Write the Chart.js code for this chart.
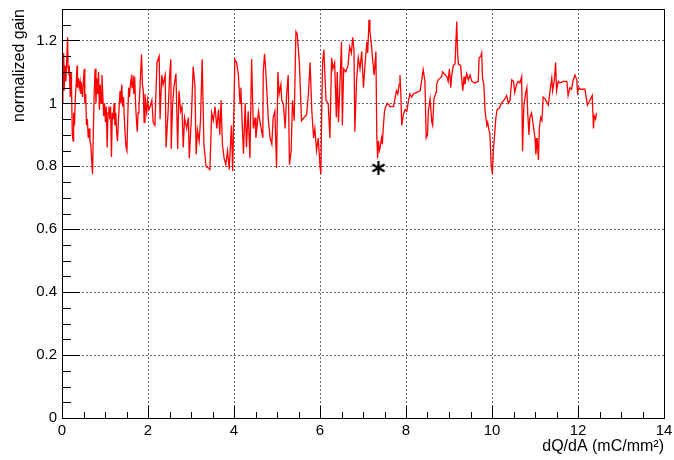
<!DOCTYPE html>
<html>
<head>
<meta charset="utf-8">
<script src="https://cdn.jsdelivr.net/npm/chart.js@4"></script>
<style>
html,body{margin:0;padding:0;background:#fff;}
#wrap{width:674px;height:460px;}
</style>
</head>
<body>
<div id="wrap"><canvas id="c" width="674" height="460"></canvas></div>
<script>
// ---- data ----
const gainX = [
0.00,0.02,0.04,0.05,0.07,0.09,0.11,0.13,0.14,0.16,0.17,0.19,0.21,0.22,0.24,0.26,0.27,0.29,0.31,0.33,0.35,0.36,0.38,0.40,0.42,0.44,0.46,0.48,0.50,0.52,0.53,0.55,0.57,0.59,0.61,0.63,0.65,0.67,0.69,0.71,0.73,0.75,0.77,0.79,0.81,0.83,0.85,0.87,0.89,0.91,0.93,0.95,0.97,0.99,1.01,1.03,1.05,1.07,1.09,1.11,1.13,1.15,1.17,1.19,1.21,1.23,1.25,1.27,1.29,1.31,1.33,1.35,1.37,1.39,1.41,1.43,1.45,1.47,1.49,1.51,1.53,1.55,1.57,1.59,1.61,1.63,1.65,1.67,1.69,1.71,1.73,1.75,1.77,1.79,1.81,1.83,1.85,1.87,1.89,1.91,1.93,1.95,1.97,1.99,2.02,
2.05,2.09,2.12,2.16,2.20,2.21,2.26,2.28,2.32,2.35,2.40,2.42,2.47,2.50,2.53,2.54,2.57,2.60,2.65,2.69,2.72,2.76,2.79,2.82,2.85,2.90,2.94,2.96,3.01,3.05,3.09,3.12,3.15,3.19,3.22,3.26,3.30,3.35,3.40,3.44,3.48,3.52,3.56,3.60,3.64,3.67,3.70,3.73,3.77,3.81,3.85,3.89,3.94,3.97,4.02,4.06,4.10,4.14,
4.16,4.18,4.22,4.26,4.29,4.33,4.37,4.41,4.45,4.49,4.51,4.57,4.60,4.67,4.68,4.71,4.74,4.80,4.84,4.88,4.91,4.95,4.99,5.02,5.05,5.09,5.11,5.15,5.19,5.22,5.26,5.29,5.33,5.36,5.40,5.44,5.47,5.52,5.57,5.69,5.73,5.77,5.81,5.85,5.88,5.92,5.96,6.00,6.02,6.04,6.06,6.09,6.14,6.19,6.23,
6.27,6.30,6.34,6.38,6.40,6.43,6.46,6.50,6.52,6.55,6.60,6.65,6.69,6.73,6.76,6.79,6.81,6.85,6.89,6.93,6.97,7.01,7.05,7.09,7.11,7.14,7.16,7.19,7.22,7.26,7.30,7.32,7.34,7.36,7.38,7.40,7.43,7.45,7.47,7.50,7.53,7.57,7.63,7.71,7.75,7.78,7.81,7.84,7.86,7.88,7.90,7.94,7.98,8.02,8.06,8.09,8.13,8.17,8.25,8.33,
8.40,8.44,8.47,8.50,8.52,8.56,8.60,8.62,8.65,8.70,8.71,8.75,8.83,8.85,8.95,8.98,9.01,9.04,9.06,9.10,9.14,9.18,9.20,9.22,9.27,9.30,9.32,9.35,9.37,9.41,9.45,9.49,9.53,9.60,9.68,9.70,9.74,9.76,9.78,9.81,9.84,9.88,9.90,9.93,9.95,9.98,10.01,10.03,10.05,10.09,10.12,10.17,10.22,10.28,10.34,10.38,
10.42,10.46,10.50,10.53,10.57,10.61,10.65,10.69,10.71,10.74,10.78,10.81,10.83,10.86,10.88,10.92,10.96,11.00,11.02,11.05,11.08,11.10,11.13,11.16,11.19,11.23,11.31,11.35,11.39,11.41,11.45,11.48,11.50,11.54,11.58,11.66,11.74,11.77,11.81,11.85,11.89,11.93,11.97,11.99,12.02,12.05,12.16,12.22,12.28,12.33,12.36,12.38,12.41,12.43
];
const gainY = [
1.00,1.10,1.16,1.04,1.12,1.07,1.14,1.21,1.12,1.09,1.12,1.02,1.10,1.06,0.90,0.88,0.97,0.93,1.02,1.06,1.12,1.05,1.08,1.05,1.07,1.03,1.05,1.02,1.08,1.11,1.00,1.03,0.93,0.95,0.89,0.92,0.88,0.87,0.82,0.775,0.92,1.04,1.11,1.00,1.08,1.03,1.10,0.98,1.06,1.00,1.09,1.02,0.96,1.00,0.94,0.99,0.86,0.97,0.99,0.95,0.99,0.83,0.97,0.95,1.00,0.93,0.97,0.91,0.88,0.94,0.99,1.04,1.00,1.06,0.99,1.02,0.95,0.90,0.86,0.85,0.96,1.05,1.02,1.06,1.08,1.05,1.09,1.03,1.085,1.00,0.95,0.91,0.97,0.99,1.04,1.10,1.155,1.06,1.04,0.94,1.03,0.99,0.97,1.01,0.98,
0.99,1.01,0.94,0.93,1.095,1.13,1.15,0.95,1.09,1.06,1.09,0.86,0.98,1.08,1.14,0.855,0.99,1.05,1.095,0.855,1.04,0.975,0.99,0.86,0.955,0.92,0.955,0.826,0.955,1.117,1.06,0.838,0.915,0.88,0.945,1.14,0.87,0.80,0.795,0.79,0.97,0.945,0.99,0.92,0.98,0.90,1.01,0.87,0.826,0.805,0.85,0.79,0.93,0.785,1.14,1.13,1.095,1.00,
1.05,0.975,0.84,1.00,0.86,0.975,0.826,1.14,0.92,0.955,0.89,0.975,0.945,0.89,1.10,1.158,1.10,0.945,0.89,0.87,0.955,0.975,0.795,1.10,1.03,1.06,1.01,0.995,0.92,1.02,1.09,0.805,0.85,1.01,0.945,1.228,1.22,1.13,0.945,0.965,1.03,1.13,0.975,0.89,0.92,0.85,0.89,0.80,0.775,0.975,1.13,1.17,1.01,1.00,0.89,
1.145,1.11,1.13,0.955,1.10,0.94,1.05,1.196,0.93,1.11,1.10,1.12,1.18,1.16,1.21,1.17,0.91,1.07,1.145,1.11,1.165,1.05,1.13,1.196,1.16,1.266,1.23,1.196,1.145,1.09,1.165,0.90,0.826,0.88,0.85,0.86,0.89,0.87,0.92,0.975,0.99,1.00,0.99,0.99,1.02,1.04,1.03,1.06,1.09,1.03,0.93,0.965,0.98,0.975,1.01,1.03,1.02,1.03,1.035,1.04,
1.107,1.07,0.89,0.90,0.975,1.015,0.94,0.93,1.015,1.035,1.06,1.075,1.085,1.10,1.085,1.07,1.11,1.05,1.085,1.12,1.125,1.26,1.16,1.125,1.12,1.07,1.04,1.085,1.06,1.095,1.075,1.09,1.07,1.065,1.07,1.145,1.15,1.16,1.08,1.06,0.975,0.93,0.94,0.915,0.905,0.807,0.775,0.85,0.88,0.955,0.98,0.985,1.00,1.01,1.025,1.00,
1.01,1.075,1.07,1.035,1.06,1.07,1.065,1.085,0.848,0.99,1.03,1.05,0.97,0.90,0.955,0.97,0.93,0.89,0.838,0.89,0.82,0.92,0.955,0.945,1.02,1.015,0.995,1.04,1.08,1.04,1.075,1.13,1.04,1.07,1.065,1.07,1.07,1.025,1.05,1.045,1.075,1.09,1.075,1.035,1.05,1.045,1.045,0.995,1.01,1.025,0.92,0.96,0.95,0.97
];
const markerX = [7.36];
const markerY = [0.795];
const xTickValues = [0, 2, 4, 6, 8, 10, 12, 14];
const yTickValues = [0, 0.2, 0.4, 0.6, 0.8, 1.0, 1.2];
const xMinorStep = 0.5;
const yMinorStep = 0.05;
const xRange = [0, 14];
const yRange = [0, 1.3];

const linePts = gainX.map((x, i) => ({x: x, y: gainY[i]}));
const markPts = markerX.map((x, i) => ({x: x, y: markerY[i]}));

const FONT = '"Liberation Sans", Arial, Helvetica, sans-serif';

// asterisk marker image (6 arms, like ROOT marker 3)
const star = document.createElement('canvas');
star.width = 16; star.height = 16;
(function () {
  const g = star.getContext('2d');
  g.strokeStyle = '#000';
  g.lineWidth = 2.2;
  g.lineCap = 'butt';
  const c = 8, r = 7;
  [90, 30, 150].forEach(deg => {
    const t = deg * Math.PI / 180;
    g.beginPath();
    g.moveTo(c - r * Math.cos(t), c - r * Math.sin(t));
    g.lineTo(c + r * Math.cos(t), c + r * Math.sin(t));
    g.stroke();
  });
})();

const rootAxes = {
  id: 'rootAxes',
  beforeDatasetsDraw(chart) {
    const {ctx, chartArea: a, scales: {x, y}} = chart;
    ctx.save();
    ctx.strokeStyle = '#666';
    ctx.lineWidth = 1;
    ctx.setLineDash([2, 2]);
    xTickValues.forEach(v => {
      if (v <= xRange[0] || v >= xRange[1]) return;
      const px = Math.round(x.getPixelForValue(v)) + 0.5;
      ctx.beginPath(); ctx.moveTo(px, a.top); ctx.lineTo(px, a.bottom); ctx.stroke();
    });
    yTickValues.forEach(v => {
      if (v <= yRange[0] || v >= yRange[1]) return;
      const py = Math.round(y.getPixelForValue(v)) + 0.5;
      ctx.beginPath(); ctx.moveTo(a.left, py); ctx.lineTo(a.right, py); ctx.stroke();
    });
    ctx.restore();
  },
  afterDatasetsDraw(chart) {
    const {ctx, chartArea: a, scales: {x, y}} = chart;
    ctx.save();
    ctx.strokeStyle = '#000';
    ctx.lineWidth = 1;
    ctx.setLineDash([]);
    const nx = Math.round((xRange[1] - xRange[0]) / xMinorStep);
    for (let i = 0; i <= nx; i++) {
      const v = xRange[0] + i * xMinorStep;
      const major = xTickValues.some(t => Math.abs(t - v) < 1e-6);
      const px = Math.round(x.getPixelForValue(v)) + 0.5;
      const len = major ? 12 : 6;
      ctx.beginPath(); ctx.moveTo(px, a.bottom); ctx.lineTo(px, a.bottom - len); ctx.stroke();
    }
    const ny = Math.floor((yRange[1] - yRange[0]) / yMinorStep + 1e-6);
    for (let i = 0; i <= ny; i++) {
      const v = yRange[0] + i * yMinorStep;
      const major = yTickValues.some(t => Math.abs(t - v) < 1e-6);
      const py = Math.round(y.getPixelForValue(v)) + 0.5;
      const len = major ? 18 : 9;
      ctx.beginPath(); ctx.moveTo(a.left, py); ctx.lineTo(a.left + len, py); ctx.stroke();
    }
    ctx.strokeRect(Math.round(a.left) + 0.5, Math.round(a.top) + 0.5,
                   Math.round(a.right - a.left), Math.round(a.bottom - a.top));
    ctx.restore();
  }
};

new Chart(document.getElementById('c'), {
  type: 'line',
  data: {
    datasets: [
      {
        data: linePts,
        borderColor: '#ff0000',
        borderWidth: 1.3,
        pointRadius: 0,
        tension: 0,
        fill: false,
        order: 2
      },
      {
        type: 'scatter',
        data: markPts,
        pointStyle: star,
        pointRadius: 8,
        order: 1
      }
    ]
  },
  options: {
    responsive: false,
    animation: false,
    devicePixelRatio: 1,
    layout: {padding: {top: 8, right: 10, bottom: 0, left: 0}},
    plugins: {legend: {display: false}, tooltip: {enabled: false}},
    scales: {
      x: {
        type: 'linear',
        min: xRange[0], max: xRange[1],
        afterBuildTicks: s => { s.ticks = xTickValues.map(v => ({value: v})); },
        afterFit: s => { s.height = 42; s.paddingLeft = 0; s.paddingRight = 0; },
        grid: {display: false, drawTicks: false},
        border: {display: false},
        ticks: {
          padding: 4,
          color: '#000',
          maxRotation: 0,
          autoSkip: false,
          font: {family: FONT, size: 15},
          callback: v => String(v)
        },
        title: {
          display: true,
          text: 'dQ/dA (mC/mm²)',
          align: 'end',
          color: '#000',
          font: {family: FONT, size: 16},
          padding: {top: 0, bottom: 4}
        }
      },
      y: {
        type: 'linear',
        min: yRange[0], max: yRange[1],
        afterBuildTicks: s => { s.ticks = yTickValues.map(v => ({value: v})); },
        afterFit: s => { s.width = 62; s.paddingTop = 0; s.paddingBottom = 0; },
        grid: {display: false, drawTicks: false},
        border: {display: false},
        ticks: {
          padding: 5,
          color: '#000',
          autoSkip: false,
          font: {family: FONT, size: 15},
          callback: v => String(Math.round(v * 10) / 10)
        },
        title: {
          display: true,
          text: 'normalized gain',
          align: 'end',
          color: '#000',
          font: {family: FONT, size: 16},
          padding: {top: 10, bottom: 0}
        }
      }
    }
  },
  plugins: [rootAxes]
});
</script>
</body>
</html>
